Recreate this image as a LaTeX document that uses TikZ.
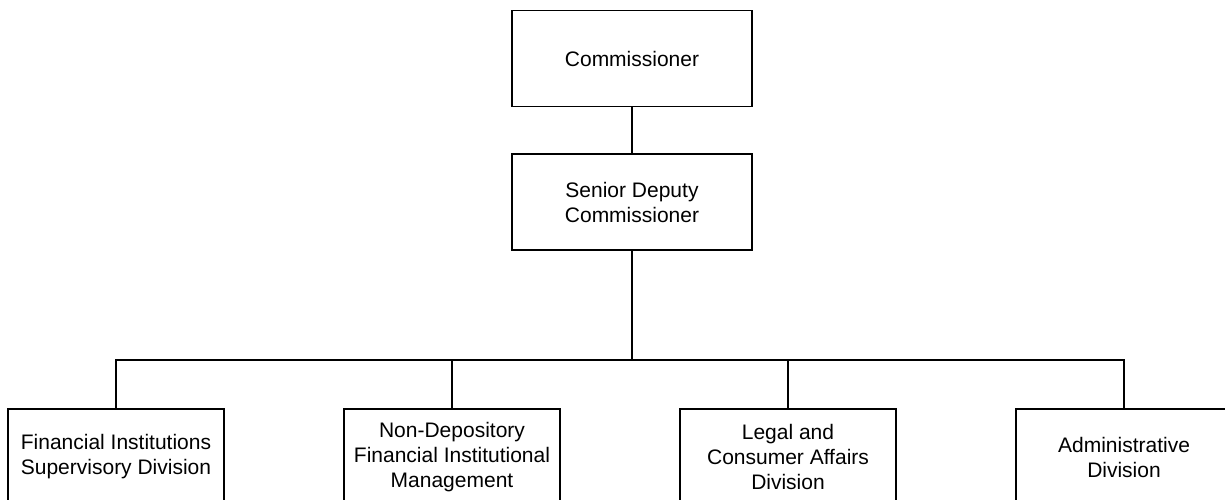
\documentclass[tikz,border=0pt]{standalone}
\usepackage{fontspec}
\setmainfont{Liberation Sans}
\begin{document}
\begin{tikzpicture}[x=1pt,y=-1pt,
  box/.style={draw=black, line width=1.5pt, rectangle, align=center, inner sep=0pt,
    font=\fontsize{21}{25}\selectfont},
  topbox/.style={box, minimum width=240pt, minimum height=96pt},
  divbox/.style={box, minimum width=216pt, minimum height=96pt},
  conn/.style={draw=black, line width=1.5pt}]
\useasboundingbox (0,0) rectangle (1225,499);
\clip (0,0) rectangle (1225,499);
\node[topbox] (comm) at (632,58.5) {Commissioner};
\node[topbox] (sdc) at (632,202) {Senior Deputy\\Commissioner};
\node[divbox] (b1) at (116,457) {Financial Institutions\\Supervisory Division};
\node[divbox] (b2) at (452,457) {Non-Depository\\Financial Institutional\\Management};
\node[divbox] (b3) at (788,457) {Legal and\\Consumer Affairs\\Division};
\node[divbox] (b4) at (1124,457) {Administrative\\Division};
\coordinate (bus) at (632,360);
\draw[conn] (comm) -- (sdc);
\draw[conn] (sdc) -- (bus);
\draw[conn] (b1.north) |- (bus);
\draw[conn] (b4.north) |- (bus);
\draw[conn] (b2.north) -- (b2.north |- bus);
\draw[conn] (b3.north) -- (b3.north |- bus);
\end{tikzpicture}
\end{document}
